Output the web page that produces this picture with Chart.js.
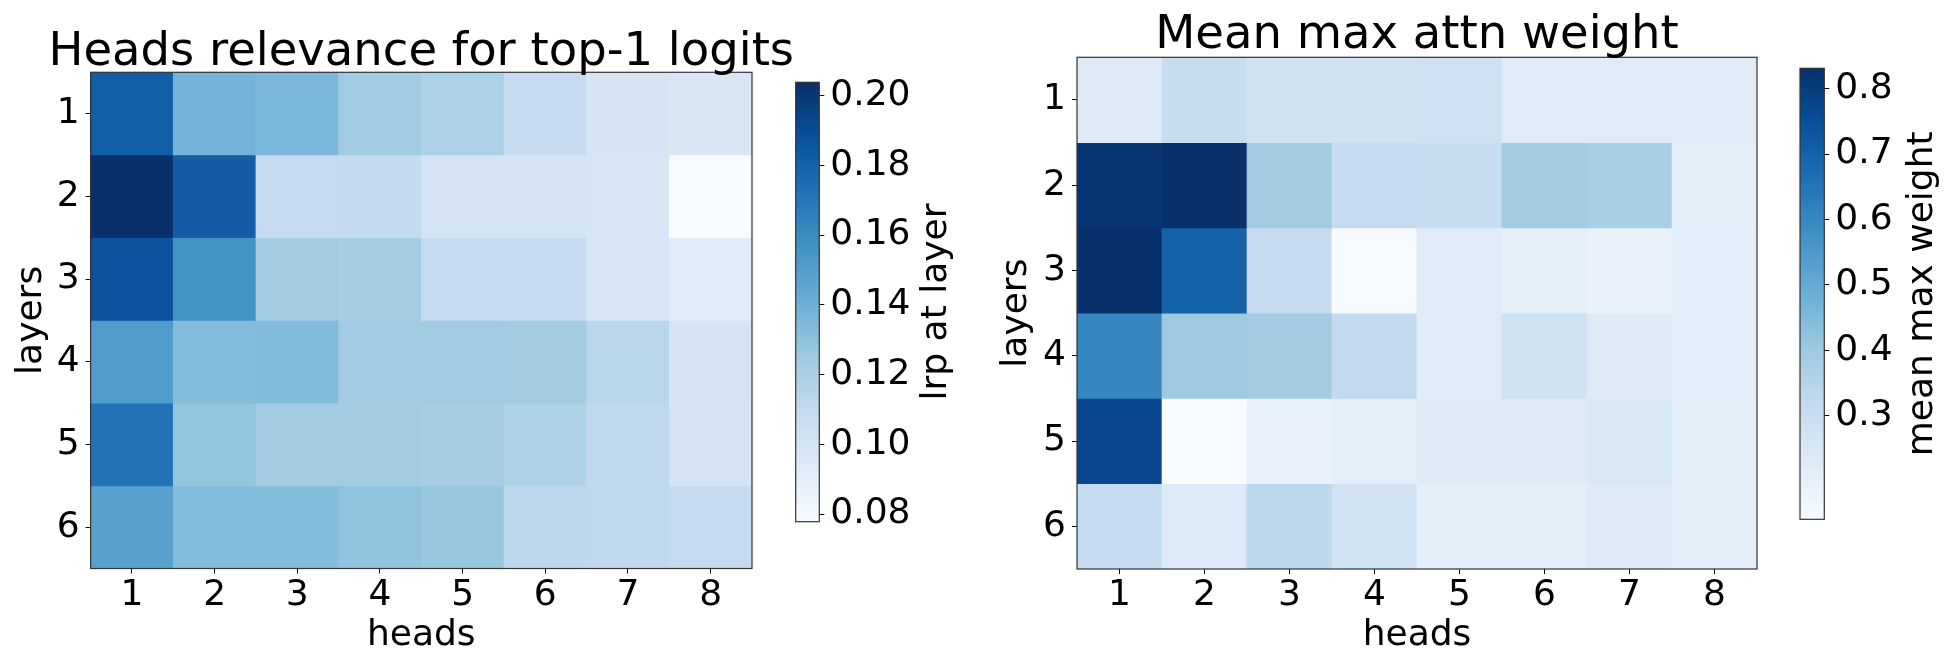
<!DOCTYPE html>
<html>
<head>
<meta charset="utf-8">
<script src="https://cdn.jsdelivr.net/npm/chart.js@4.4.1/dist/chart.umd.min.js"></script>
<style>
	body { margin: 0; background: #fff; }
	.stage { position: relative; width: 1954px; height: 654px; overflow: hidden; }
	.stage canvas { position: absolute; top: 0; }
</style>
</head>
<body>
<div class="stage">
	<canvas id="heatLeft" width="843" height="654" style="left:0px;width:843px;height:654px"></canvas>
	<canvas id="cbLeft" width="220" height="654" style="left:760px;width:220px;height:654px"></canvas>
	<canvas id="heatRight" width="790" height="654" style="left:990px;width:790px;height:654px"></canvas>
	<canvas id="cbRight" width="189" height="654" style="left:1765px;width:189px;height:654px"></canvas>
</div>
<script>
const FONT = "DejaVu Sans";

const heads = ["1", "2", "3", "4", "5", "6", "7", "8"];
const layers = [1, 2, 3, 4, 5, 6];

// lrp at layer, one array per layer (heads 1..8)
const lrpLayer1 = [0.181, 0.138, 0.136, 0.124, 0.119, 0.109, 0.099, 0.097];
const lrpLayer2 = [0.2038, 0.182, 0.109, 0.110, 0.100, 0.100, 0.098, 0.0778];
const lrpLayer3 = [0.187, 0.156, 0.123, 0.122, 0.109, 0.109, 0.098, 0.093];
const lrpLayer4 = [0.151, 0.133, 0.134, 0.124, 0.124, 0.123, 0.114, 0.099];
const lrpLayer5 = [0.172, 0.128, 0.123, 0.123, 0.122, 0.118, 0.112, 0.100];
const lrpLayer6 = [0.148, 0.133, 0.133, 0.129, 0.127, 0.113, 0.112, 0.109];
const lrpTicks = [0.08, 0.10, 0.12, 0.14, 0.16, 0.18, 0.20];

// mean max attn weight, one array per layer (heads 1..8)
const attnLayer1 = [0.228, 0.307, 0.280, 0.280, 0.287, 0.225, 0.225, 0.222];
const attnLayer2 = [0.817, 0.831, 0.390, 0.314, 0.310, 0.390, 0.376, 0.210];
const attnLayer3 = [0.830, 0.700, 0.314, 0.148, 0.225, 0.204, 0.190, 0.218];
const attnLayer4 = [0.604, 0.400, 0.390, 0.320, 0.225, 0.280, 0.228, 0.218];
const attnLayer5 = [0.770, 0.142, 0.190, 0.204, 0.228, 0.228, 0.245, 0.210];
const attnLayer6 = [0.314, 0.232, 0.334, 0.273, 0.210, 0.210, 0.228, 0.210];
const attnTicks = [0.3, 0.4, 0.5, 0.6, 0.7, 0.8];

// matplotlib "Blues"
const blues = [
	[247, 251, 255], [222, 235, 247], [198, 219, 239], [158, 202, 225],
	[107, 174, 214], [66, 146, 198], [33, 113, 181], [8, 81, 156], [8, 48, 107],
];

const bluesColor = (t) => {
	t = Math.min(1, Math.max(0, t)) * (blues.length - 1);
	const i = Math.min(blues.length - 2, Math.floor(t));
	const f = t - i;
	const c = blues[i].map((v, k) => Math.round(v + (blues[i + 1][k] - v) * f));
	return `rgb(${c[0]}, ${c[1]}, ${c[2]})`;
};

const framePlugin = {
	id: "frame",
	afterDatasetsDraw(chart) {
		const { ctx, chartArea: a } = chart;
		ctx.save();
		ctx.strokeStyle = "#333";
		ctx.lineWidth = 1.2;
		ctx.strokeRect(a.left, a.top, a.right - a.left, a.bottom - a.top);
		ctx.restore();
	},
};

// title centred on the plot area, like matplotlib's ax.set_title
const panelTitlePlugin = {
	id: "panelTitle",
	afterDraw(chart, args, opts) {
		const { ctx, chartArea: a } = chart;
		ctx.save();
		ctx.font = `46.5px "${FONT}"`;
		ctx.fillStyle = "#000";
		ctx.textAlign = "center";
		ctx.textBaseline = "alphabetic";
		ctx.fillText(opts.text, (a.left + a.right) / 2, opts.baseline);
		ctx.restore();
	},
};

// colorbar label reads bottom to top, like matplotlib
const cbLabelPlugin = {
	id: "cbLabel",
	afterDraw(chart, args, opts) {
		const { ctx, chartArea: a } = chart;
		ctx.save();
		ctx.translate(a.right + opts.offset, (a.top + a.bottom) / 2);
		ctx.rotate(-Math.PI / 2);
		ctx.font = `36px "${FONT}"`;
		ctx.fillStyle = "#000";
		ctx.textAlign = "center";
		ctx.textBaseline = "middle";
		ctx.fillText(opts.text, 0, 0);
		ctx.restore();
	},
};

const tickFont = { family: FONT, size: 36, lineHeight: 1 };

const addHeatmap = ({ canvas, title, rows, yWidth, xHeight, top, padRight, titleBaseline, yTitlePad }) => {
	const all = rows.flat();
	const vmin = Math.min(...all);
	const vmax = Math.max(...all);
	new Chart(canvas, {
		type: "bar",
		data: {
			labels: heads,
			datasets: rows.map((row, i) => ({
				label: "layer " + layers[i],
				data: row.map(() => [layers[i] - 0.5, layers[i] + 0.5]),
				backgroundColor: row.map((v) => bluesColor((v - vmin) / (vmax - vmin))),
				borderWidth: 0,
				barPercentage: 1,
				categoryPercentage: 1,
				grouped: false,
			})),
		},
		options: {
			responsive: false,
			animation: false,
			events: [],
			layout: { padding: { left: 0, right: padRight, top, bottom: 0 } },
			plugins: {
				legend: { display: false },
				tooltip: { enabled: false },
				panelTitle: { text: title, baseline: titleBaseline },
			},
			scales: {
				x: {
					offset: true,
					grid: { drawOnChartArea: false, offset: false, tickLength: 5, tickColor: "#000" },
					border: { display: false },
					ticks: { color: "#000", font: tickFont, padding: 4, maxRotation: 0 },
					title: { display: true, text: "heads", color: "#000", font: tickFont, padding: 0 },
					afterFit: (s) => { s.height = xHeight; },
				},
				y: {
					min: 0.5,
					max: 6.5,
					reverse: true,
					afterBuildTicks: (s) => { s.ticks = layers.map((v) => ({ value: v })); },
					grid: { drawOnChartArea: false, tickLength: 5, tickColor: "#000" },
					border: { display: false },
					ticks: { color: "#000", font: tickFont, padding: 6 },
					title: { display: true, text: "layers", color: "#000", font: tickFont, padding: { top: yTitlePad, bottom: 0 } },
					afterFit: (s) => { s.width = yWidth; },
				},
			},
		},
		plugins: [framePlugin, panelTitlePlugin],
	});
};

const addColorbar = ({ canvas, label, rows, ticks, decimals, padding, yWidth, labelOffset }) => {
	const all = rows.flat();
	const vmin = Math.min(...all);
	const vmax = Math.max(...all);
	new Chart(canvas, {
		type: "bar",
		data: {
			labels: [label],
			datasets: [{
				data: [[vmin, vmax]],
				backgroundColor: (c) => {
					const a = c.chart.chartArea;
					if (!a) return bluesColor(0.5);
					const g = c.chart.ctx.createLinearGradient(0, a.bottom, 0, a.top);
					blues.forEach((b, i) => g.addColorStop(i / (blues.length - 1), `rgb(${b[0]}, ${b[1]}, ${b[2]})`));
					return g;
				},
				borderWidth: 0,
				barPercentage: 1,
				categoryPercentage: 1,
			}],
		},
		options: {
			responsive: false,
			animation: false,
			events: [],
			layout: { padding },
			plugins: {
				legend: { display: false },
				tooltip: { enabled: false },
				cbLabel: { text: label, offset: labelOffset },
			},
			scales: {
				x: { display: false },
				y: {
					position: "right",
					min: vmin,
					max: vmax,
					afterBuildTicks: (s) => { s.ticks = ticks.map((v) => ({ value: v })); },
					grid: { drawOnChartArea: false, tickLength: 5, tickColor: "#000" },
					border: { display: false },
					ticks: { color: "#000", font: tickFont, padding: 6, callback: (v) => Number(v).toFixed(decimals) },
					afterFit: (s) => { s.width = yWidth; },
				},
			},
		},
		plugins: [framePlugin, cbLabelPlugin],
	});
};

const lrpRows = [lrpLayer1, lrpLayer2, lrpLayer3, lrpLayer4, lrpLayer5, lrpLayer6];
const attnRows = [attnLayer1, attnLayer2, attnLayer3, attnLayer4, attnLayer5, attnLayer6];

addHeatmap({
	canvas: document.getElementById("heatLeft"),
	title: "Heads relevance for top-1 logits",
	rows: lrpRows,
	yWidth: 90.6,
	xHeight: 85.5,
	top: 72.3,
	padRight: 91,
	titleBaseline: 65,
	yTitlePad: 13.5,
});

addColorbar({
	canvas: document.getElementById("cbLeft"),
	label: "lrp at layer",
	rows: lrpRows,
	ticks: lrpTicks,
	decimals: 2,
	padding: { left: 35.7, right: 0, top: 82.3, bottom: 132.3 },
	yWidth: 160.7,
	labelOffset: 117.4,
});

addHeatmap({
	canvas: document.getElementById("heatRight"),
	title: "Mean max attn weight",
	rows: attnRows,
	yWidth: 87,
	xHeight: 85,
	top: 57.3,
	padRight: 23,
	titleBaseline: 48,
	yTitlePad: 8.9,
});

addColorbar({
	canvas: document.getElementById("cbRight"),
	label: "mean max weight",
	rows: attnRows,
	ticks: attnTicks,
	decimals: 1,
	padding: { left: 35, right: 0, top: 68.3, bottom: 134.7 },
	yWidth: 129.7,
	labelOffset: 98.7,
});
</script>
</body>
</html>
